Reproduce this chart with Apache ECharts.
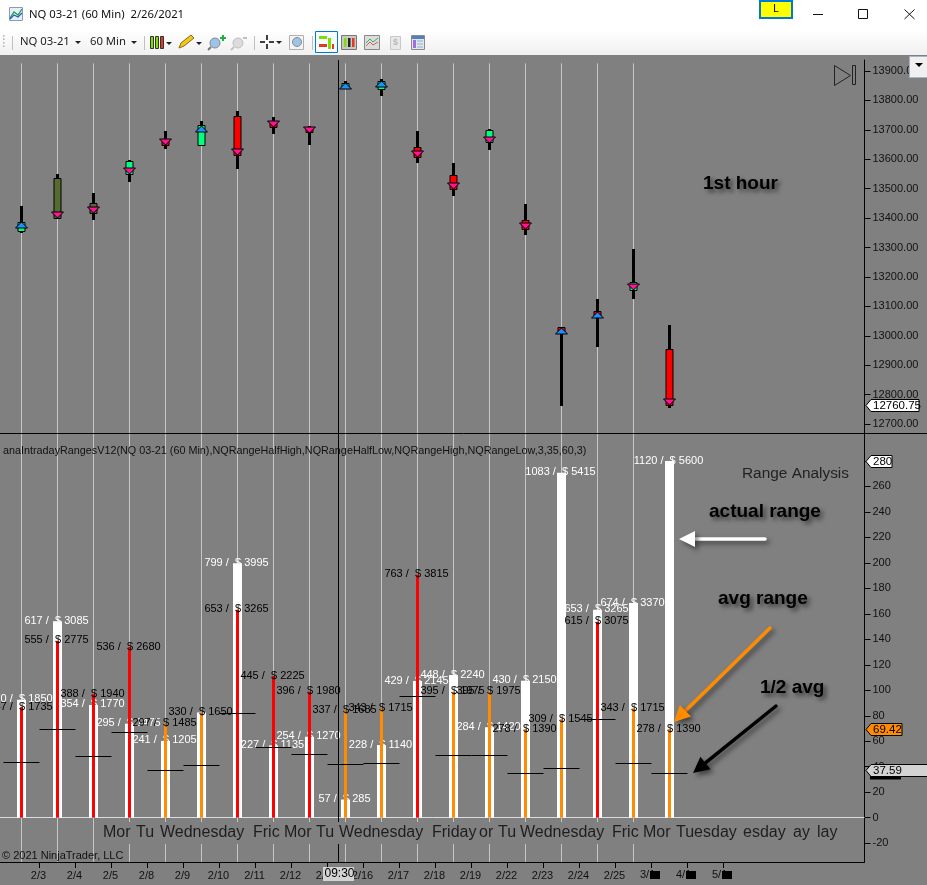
<!DOCTYPE html>
<html>
<head>
<meta charset="utf-8">
<style>html,body{margin:0;padding:0;background:#808080}#c{width:927px;height:885px}</style>
<script src="https://cdn.jsdelivr.net/npm/echarts@6/dist/echarts.min.js"></script>
</head>
<body>
<div id="c"></div>
<script>
// ---- sessions (one per bar, first-hour candle on top, range bars below)
const sessions = ['2/2','2/3','2/4','2/5','2/8','2/9','2/10','2/11','2/12','2/16','2/17','2/18','2/19','2/22','2/23','2/24','2/25','2/26','3/1'];
const dateTicks = [1,2,3,4,5,6,7,8,9,10,11,12,13,14,15,16,17,18,19,20];
const labelTicks = [1,2,3,4,5,6,7,8,9,10,11,12,13,14,15,16,17];
const dateLabels = ['2/3','2/4','2/5','2/8','2/9','2/10','2/11','2/12','2/15','2/16','2/17','2/18','2/19','2/22','2/23','2/24','2/25'];
const crowdedDates = [['3/1',640],['4/1',676],['5/1',712]];
const gridlineSessions = 18;

// ---- first hour candles (price)
const candleHigh   = [13441,13550,13485,13597,13696,13730,13764,13744,13713,13866,13873,13696,13587,13703,13448,13029,13125,13295,13037];
const candleLow    = [13349,13398,13394,13523,13635,13645,13567,13686,13648,13838,13815,13588,13475,13631,13343,12761,12963,13125,12755];
const bodyTop      = [13386,13536,13451,13594,13669,13716,13747,13730,13710,13859,13866,13641,13546,13699,13394,13029,13084,13182,12954];
const bodyBottom   = [13353,13398,13414,13546,13645,13645,13611,13706,13688,13838,13835,13605,13496,13655,13360,13006,13063,13153,12762];
const candleTone   = ['green','olive','olive','green','red','green','red','red','red','green','green','red','red','green','red','red','red','green','red'];
const markerPrice  = [13366,13420,13437,13569,13668,13694,13634,13729,13709,13838,13846,13627,13518,13677,13382,13006,13061,13175,12784];
const markerDir    = ['up','down','down','down','down','up','down','down','down','up','up','down','down','down','down','up','up','down','down'];

// ---- range analysis (points)
const actualRange = [92.5,154.25,88.5,73.75,60.25,82.5,199.75,56.75,63.5,14.25,57,107.25,112,71,107.5,270.75,163.25,168.5,280];
// the sixth label sits exactly under its identical black twin, so only the black one shows
const actualText  = ['370 /  $ 1850','617 /  $ 3085','354 /  $ 1770','295 /  $ 1475','241 /  $ 1205','','799 /  $ 3995','227 /  $ 1135','254 /  $ 1270','57 /  $ 285','228 /  $ 1140','429 /  $ 2145','448 /  $ 2240','284 /  $ 1420','430 /  $ 2150','1083 /  $ 5415','653 /  $ 3265','674 /  $ 3370','1120 /  $ 5600'];
const avgRange    = [86.75,138.75,97,134,74.25,82.5,163.25,111.25,99,84.25,85.75,190.75,98.75,98.75,69.5,77.25,153.75,85.75,69.5];
const avgText     = ['347 /  $ 1735','555 /  $ 2775','388 /  $ 1940','536 /  $ 2680','297 /  $ 1485','330 /  $ 1650','653 /  $ 3265','445 /  $ 2225','396 /  $ 1980','337 /  $ 1685','343 /  $ 1715','763 /  $ 3815','395 /  $ 1975','395 /  $ 1975','278 /  $ 1390','309 /  $ 1545','615 /  $ 3075','343 /  $ 1715','278 /  $ 1390'];
const avgTone     = ['red','red','red','red','orange','orange','red','red','red','orange','orange','red','orange','orange','orange','orange','red','orange','orange'];
const halfAvg     = [43.4,69.4,48.5,67,37.1,41.3,81.6,55.6,49.5,42.1,42.9,95.4,49.4,49.4,34.8,38.6,76.9,42.9,34.8];

// ---- axis ticks and cursors
const priceTicks = [12700,12800,12900,13000,13100,13200,13300,13400,13500,13600,13700,13800,13900];
const rangeTicks = [-20,0,20,40,60,80,100,120,140,160,180,200,220,240,260,280];
const lastPrice = 12760.75, cursorRange = 37.59, tagAvg = 69.42, tagMax = 280;
const cursorSession = 9.3;
const dayNames = [['Mor',102],['Tu',135],['Wednesday',159],['Fric',252],['Mor',283],['Tu',315],['Wednesday',338],['Friday',431],['or',478],['Tu',497],['Wednesday',519],['Fric',611],['Mor',642],['Tuesday',675],['esday',742],['ay',792],['lay',816]];

const FONT = '"Liberation Sans", Arial, sans-serif';
const UI = '"Noto Sans", "Open Sans", sans-serif';
const BG = '#808080', GRID = '#c6c6c6';
const toneColor = {green:'#00ff7f', olive:'#556b2f', red:'#ff0000', orange:'#ff8c00'};
const xMin = -3.5/36, xMax = 861/36;
const slot = i => i + 0.5;

function xAxisCfg(gridIndex, visible){
  return {
    type:'value', gridIndex, min:xMin, max:xMax, show:visible, position:'bottom',
    axisLine:{show:true,onZero:false,lineStyle:{color:'#000',width:1}},
    axisTick:{show:true,length:6,inside:false,customValues:dateTicks,lineStyle:{color:'#000',width:1}},
    axisLabel:{show:true,customValues:labelTicks,margin:8,padding:[0,2,0,0],color:'#111',fontFamily:FONT,fontSize:11,
      formatter:v=>dateLabels[labelTicks.indexOf(Math.round(v))]||''},
    splitLine:{show:false}
  };
}
function yAxisCfg(gridIndex,min,max,ticks,fmt){
  return {
    type:'value', gridIndex, position:'right', min, max,
    axisLine:{show:true,onZero:false,lineStyle:{color:'#000',width:1}},
    axisTick:{show:true,length:6,customValues:ticks,lineStyle:{color:'#000',width:1}},
    axisLabel:{show:true,customValues:ticks,margin:8,padding:[3,0,0,0],color:'#111',fontFamily:FONT,fontSize:11,formatter:fmt,hideOverlap:false},
    splitLine:{show:false}
  };
}

const gridlineIdx = sessions.slice(0,gridlineSessions).map((s,i)=>slot(i));
function vlines(yLow,yHigh){
  return gridlineIdx.map(x=>[{coord:[x,yLow]},{coord:[x,yHigh]}]);
}

const candleData = sessions.map((s,i)=>[slot(i),candleHigh[i],candleLow[i],bodyTop[i],bodyBottom[i],markerPrice[i]]);

const option = {
  animation:false,
  backgroundColor:BG,
  grid:[
    {left:0,top:60,width:864.5,height:373.5,containLabel:false},
    {left:0,top:433.5,width:864.5,height:428.5,containLabel:false}
  ],
  xAxis:[
    xAxisCfg(0,false),
    xAxisCfg(1,true),
    xAxisCfg(1,false)
  ],
  yAxis:[
    yAxisCfg(0,12667.9,13937.4,priceTicks,v=>v.toFixed(2)),
    yAxisCfg(1,-34.77,301.57,rangeTicks,v=>String(v))
  ],
  series:[
    {type:'line',xAxisIndex:0,yAxisIndex:0,data:[],silent:true,z:1,
      markLine:{silent:true,z:1,symbol:'none',label:{show:false},lineStyle:{color:GRID,width:1,type:'solid'},
        data:vlines(12668,13926)}},
    {type:'line',xAxisIndex:1,yAxisIndex:1,data:[],silent:true,z:1,
      markLine:{silent:true,z:1,symbol:'none',label:{show:false},lineStyle:{color:GRID,width:1,type:'solid'},
        data:vlines(-34.7,301.5).concat([[{coord:[xMin,0],lineStyle:{color:'#dcdcdc'}},{coord:[xMax,0]}]])}},
    {type:'custom',xAxisIndex:0,yAxisIndex:0,z:3,data:candleData,clip:false,
      encode:{x:0,y:[1,2]},
      renderItem:function(params,api){
        const i = params.dataIndex;
        const px = Math.floor(api.coord([api.value(0),api.value(1)])[0]);
        const yOf = v=>Math.round(api.coord([api.value(0),v])[1]);
        const yH=yOf(api.value(1)), yL=yOf(api.value(2)), yT=yOf(api.value(3)), yB=yOf(api.value(4)), yM=yOf(api.value(5));
        const cx = px+0.5;
        const up = markerDir[i]==='up';
        const tip = up? yM-6 : yM+6;
        return {type:'group',children:[
          {type:'rect',shape:{x:px-1,y:yH,width:3,height:Math.max(yL-yH,1)},style:{fill:'#000'}},
          {type:'rect',shape:{x:px-3,y:yT+0.5,width:7,height:Math.max(yB-yT-1,1)},style:{fill:toneColor[candleTone[i]],stroke:'#000',lineWidth:1}},
          {type:'polygon',shape:{points:[[cx-6,yM],[cx+6,yM],[cx,tip]]},style:{fill:up?'#1e90ff':'#ff1493',stroke:'#000',lineWidth:1}}
        ]};
      }
    },
    {type:'bar',name:'actual range',xAxisIndex:1,yAxisIndex:1,barWidth:9,z:3,clip:false,
      itemStyle:{color:'#ffffff'},
      data:actualRange.map((v,i)=>[slot(i),v]),
      label:{show:true,position:'top',distance:-5,padding:[0,2,0,0],color:'#fff',fontFamily:FONT,fontSize:11,
        formatter:p=>actualText[p.dataIndex]}
    },
    {type:'bar',name:'avg range',xAxisIndex:2,yAxisIndex:1,barWidth:3,z:4,clip:false,
      data:avgRange.map((v,i)=>({value:[slot(i),v],itemStyle:{color:toneColor[avgTone[i]]}})),
      label:{show:true,position:'top',distance:-5,padding:[0,2,0,0],color:'#000',fontFamily:FONT,fontSize:11,
        formatter:p=>avgText[p.dataIndex]}
    },
    {type:'line',name:'half avg',xAxisIndex:1,yAxisIndex:1,data:[],silent:true,z:6,
      markLine:{silent:true,z:6,symbol:'none',label:{show:false},lineStyle:{color:'#000',width:1,type:'solid'},
        data:halfAvg.map((v,i)=>[{coord:[i,v]},{coord:[i+1,v]}])
          .concat([[{coord:[xMin,cursorRange]},{coord:[xMax+0.05,cursorRange]}]])
          .concat([[{coord:[cursorSession,-34.7]},{coord:[cursorSession,301.5]}]])}},
    {type:'line',xAxisIndex:0,yAxisIndex:0,data:[],silent:true,z:6,
      markLine:{silent:true,z:6,symbol:'none',label:{show:false},lineStyle:{color:'#000',width:1,type:'solid'},
        data:[[{coord:[cursorSession,12668]},{coord:[cursorSession,13937]}]]}}
  ]
};

const chart = echarts.init(document.getElementById('c'),null,{renderer:'canvas',width:927,height:885});
chart.setOption(option);

// ---- chrome, tags and annotations
const yPrice = v=>chart.convertToPixel({xAxisIndex:0,yAxisIndex:0},[0,v])[1];
const yRange = v=>chart.convertToPixel({xAxisIndex:1,yAxisIndex:1},[0,v])[1];
const g = [];
const Z = 50;
const rect=(x,y,w,h,fill,stroke,lw,z)=>g.push({type:'rect',z:z||Z,shape:{x,y,width:w,height:h},style:{fill:fill||'none',stroke:stroke||'none',lineWidth:lw||1}});
const line=(x1,y1,x2,y2,c,w,z)=>g.push({type:'line',z:z||Z,shape:{x1,y1,x2,y2},style:{stroke:c,lineWidth:w||1}});
const poly=(pts,fill,stroke,z)=>g.push({type:'polygon',z:z||Z,shape:{points:pts},style:{fill:fill,stroke:stroke||'none',lineWidth:1}});
const text=(t,x,y,font,fill,extra)=>g.push({type:'text',z:(extra&&extra.z)||Z,style:Object.assign({text:t,x,y,font,fill:fill||'#111',verticalAlign:'middle',align:'left'},extra&&extra.style)});

// title bar + toolbar
g.push({type:'rect',z:40,shape:{x:0,y:0,width:927,height:30},style:{fill:'#fff'}});
g.push({type:'rect',z:40,shape:{x:0,y:30,width:927,height:25},style:{fill:new echarts.graphic.LinearGradient(0,0,0,1,[{offset:0,color:'#ffffff'},{offset:1,color:'#f0f0f0'}])}});
rect(9.5,7.5,13,13,'#e8eef8','#8a9ab8');
g.push({type:'polyline',z:Z,shape:{points:[[10,18],[14,12],[18,15],[22,9]]},style:{stroke:'#20a040',fill:'none',lineWidth:1.3}});
g.push({type:'polyline',z:Z,shape:{points:[[10,19],[14,15],[18,17],[22,13]]},style:{stroke:'#2060d0',fill:'none',lineWidth:1.3}});
text('NQ 03-21 (60 Min)  2/26/2021',29,15,'11.3px '+UI,'#111');
for(let i=0;i<4;i++) rect(3,35+i*3.5,1.5,1.5,'#b0b0b0');
line(12.5,36,12.5,50,'#c0c0c0');
text('NQ 03-21',20,42,'11.3px '+UI,'#222');
poly([[75,41],[81,41],[78,44]],'#222');
text('60 Min',90,42,'11.3px '+UI,'#222');
poly([[131,41],[137,41],[134,44]],'#222');
line(144.5,36,144.5,50,'#c0c0c0');
[[150,'#7ee000'],[155,'#7ee000'],[160,'#e03a20']].forEach(a=>rect(a[0]+.5,36.5,3,12,a[1],'#333'));
poly([[166,42],[172,42],[169,45]],'#222');
poly([[179,48],[181,43],[191,35],[194,38],[184,46]],'#f0c820','#886a10');
poly([[196,42],[202,42],[199,45]],'#222');
g.push({type:'circle',z:Z,shape:{cx:215,cy:43,r:5},style:{fill:'#9cc4e8',stroke:'#8a8a8a'}});
line(211,47,208,50,'#777',2);
line(220,38,226,38,'#20b040',2);line(223,35,223,41,'#20b040',2);
g.push({type:'circle',z:Z,shape:{cx:238,cy:43,r:5},style:{fill:'#dcdcdc',stroke:'#c0c0c0'}});
line(234,47,231,50,'#c0c0c0',2);
line(243,38,247,38,'#c0c0c0',2);
line(254.5,36,254.5,50,'#c0c0c0');
line(260,42,265,42,'#000',1.5);line(269,42,274,42,'#000',1.5);line(267,35,267,40,'#000',1.5);line(267,44,267,49,'#000',1.5);
poly([[276,41],[282,41],[279,44]],'#222');
rect(289.5,35.5,14,14,'#f4f4f4','#b0b0b0');
g.push({type:'circle',z:Z,shape:{cx:297,cy:42,r:4.5},style:{fill:'#9cc4e8',stroke:'#8a8a8a'}});
line(312.5,36,312.5,50,'#c0c0c0');
rect(315.5,31.5,22,21,'#f6fbff','#0078d7');
rect(319,36,8,3,'#7ee000');rect(319,44,8,3,'#e03a20');rect(328,38,3,11,'#7ee000');rect(332,44,2,5,'#e03a20');
rect(341.5,35.5,15,14,'#c8c8c8','#777');
[[344,'#7ee000'],[348,'#222'],[352,'#e03a20']].forEach(a=>rect(a[0],38,2.5,9,a[1]));
rect(364.5,35.5,15,14,'#dcdcdc','#888');
g.push({type:'polyline',z:Z,shape:{points:[[366,43],[370,39],[373,42],[378,38]]},style:{stroke:'#30b060',fill:'none',lineWidth:1}});
g.push({type:'polyline',z:Z,shape:{points:[[366,46],[370,42],[373,45],[378,42]]},style:{stroke:'#d06060',fill:'none',lineWidth:1}});
rect(390.5,36.5,10,13,'#e8e8e8','#c8c8c8');
text('$',393,43,'bold 9px '+FONT,'#b8b8b8');
rect(411.5,35.5,13,14,'#dfe8f4','#8a8a8a');
rect(412,36,12,3,'#5080c0');rect(413,40,3,8,'#a070d8');
line(417,41,423,41,'#9ab',1);line(417,44,423,44,'#9ab',1);line(417,47,423,47,'#9ab',1);
// L button + window controls
rect(760,1,32,17,'#ffff00','#0078d7',2);
text('L',773,9,'11px '+UI,'#000');
line(813,14.5,823,14.5,'#111');
rect(858.5,9.5,9,9,'none','#111');
line(904.5,9.5,914.5,19,'#111');line(914.5,9.5,904.5,19,'#111');

// end-of-chart icon
poly([[834.5,65.5],[834.5,85.5],[850.5,75.5]],'none','#222');
rect(852.5,65.5,3,19,'none','#222');

// dropdown
rect(909.5,56.5,18,21,'#f0f0f0','#a8b4c4');
poly([[915,63],[923,63],[919,67]],'#000');

// pane divider
line(0,433.5,927,433.5,'#000',1,Z);

// study caption + misc text
text('anaIntradayRangesV12(NQ 03-21 (60 Min),NQRangeHalfHigh,NQRangeHalfLow,NQRangeHigh,NQRangeLow,3,35,60,3)',3,451,'10.8px '+FONT,'#111');
text('Range Analysis',742,474,'15.4px '+FONT,'#222');
text('\u00a9 2021 NinjaTrader, LLC',2,856,'11px '+FONT,'#111');

// day names on the lower band, hiding what is behind them
dayNames.forEach(d=>{
  g.push({type:'text',z:Z,style:{text:d[0],x:d[1],y:833,font:'16px '+FONT,fill:'#1e1e1e',verticalAlign:'middle',align:'left',backgroundColor:BG,padding:[3,1,3,1]}});
});

// annotations
const shadow={textShadowColor:'rgba(0,0,0,0.55)',textShadowBlur:4,textShadowOffsetX:3,textShadowOffsetY:3};
[['1st hour',703,184],['actual range',709,512],['avg range',718,599],['1/2 avg',760,688]].forEach(a=>{
  text(a[0],a[1],a[2],'bold 19px '+FONT,'#000',{style:shadow});
});
const sh={shadowColor:'rgba(0,0,0,0.5)',shadowBlur:5,shadowOffsetX:3,shadowOffsetY:3};
function arrow(x1,y1,x2,y2,c){
  const dx=x2-x1,dy=y2-y1,L=Math.hypot(dx,dy),ux=dx/L,uy=dy/L,nx=-uy,ny=ux,hl=16,hw=8;
  const bx=x2-ux*hl,by=y2-uy*hl;
  g.push({type:'line',z:Z+1,shape:{x1,y1,x2:bx,y2:by},style:Object.assign({stroke:c,lineWidth:3.5,lineCap:'round'},sh)});
  g.push({type:'polygon',z:Z+1,shape:{points:[[x2,y2],[bx+nx*hw,by+ny*hw],[bx-nx*hw,by-ny*hw]]},style:Object.assign({fill:c},sh)});
}
arrow(765,539,679,539,'#ffffff');
arrow(770,628,674,722,'#ff8c00');
arrow(776,706,693,773,'#000000');

// axis value tags
function tag(y,right,fill,label){
  poly([[866,y],[871,y-6],[right,y-6],[right,y+6],[871,y+6]],fill,'#000',Z+2);
  text(label,873,y+0.5,'11.5px '+FONT,'#000',{z:Z+3});
}
rect(870,775.5,31,4,'#000',null,1,Z+1);
tag(Math.round(yRange(tagMax))+.5,892,'#ffffff',String(tagMax));
tag(Math.round(yRange(tagAvg))+.5,902,'#ff8c00',String(tagAvg));
tag(Math.round(yRange(cursorRange))+.5,935,'#d3d3d3',String(cursorRange));
tag(Math.round(yPrice(lastPrice))-.5,919,'#ffffff',String(lastPrice));

// cursor label and crowded date blocks
rect(323,867,31,14,'#d3d3d3',null,1,Z+1);
text('09:30',324.5,874,'12px '+FONT,'#000',{z:Z+2});
crowdedDates.forEach(d=>{
  text(d[0],d[1],875,'11px '+FONT,'#111');
  rect(d[1]+10,871,10,8,'#000',null,1,Z+1);
});

chart.setOption({graphic:{elements:g}});
</script>
</body>
</html>
